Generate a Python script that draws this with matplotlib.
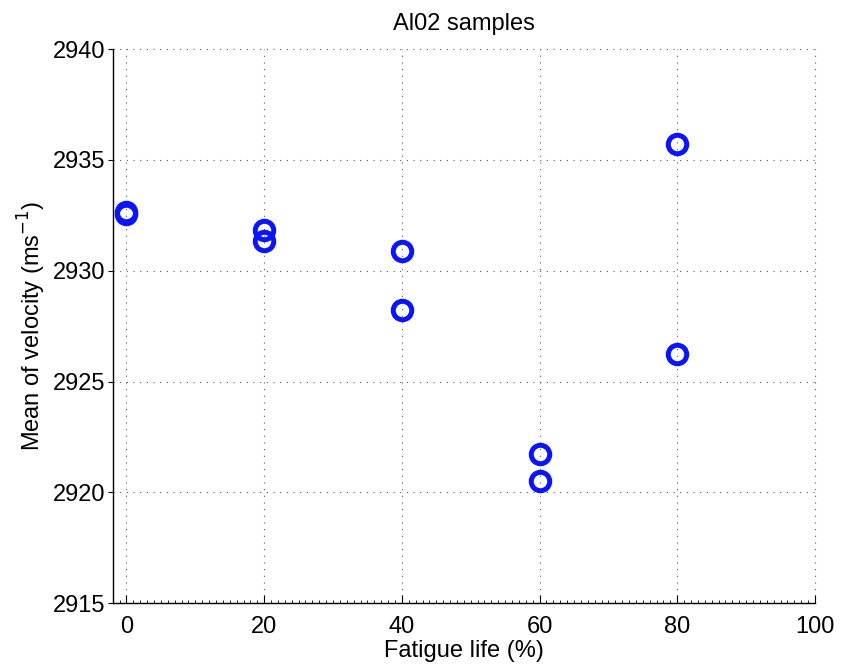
"""
Mean velocity vs fatigue life for the Al02 samples
"""

import numpy as np
import matplotlib.pyplot as plt
from matplotlib.ticker import MultipleLocator

plt.rcParams["font.family"] = ["Liberation Sans", "DejaVu Sans"]

# fatigue life (%) and mean velocity (m/s), two samples per level
fatigue = [0, 0, 20, 20, 40, 40, 60, 60, 80, 80]
velocity = [2932.67, 2932.54, 2931.83, 2931.34, 2930.88, 2928.22,
            2921.71, 2920.50, 2935.71, 2926.24]

xticks = [0, 20, 40, 60, 80, 100]
yticks = [2915, 2920, 2925, 2930, 2935, 2940]


def makePlot(x, y, savedir=None):
    fig = plt.figure(figsize=(8.41, 6.68), dpi=100)
    ax = fig.add_axes([0.134, 0.097, 0.835, 0.8295])

    ax.plot(x, y, "o", color="#0a14ff", mfc="none", ms=13.3, mew=3.6,
            clip_on=False, zorder=3)

    ax.set_xlim(-2, 100)
    ax.set_ylim(2915, 2940)
    ax.set_xticks(xticks)
    ax.set_yticks(yticks)
    ax.xaxis.set_minor_locator(MultipleLocator(1))

    ax.grid(True, linestyle=(0, (1, 5)), color="0.35", linewidth=0.8)
    for gl in ax.get_xgridlines() + ax.get_ygridlines():
        gl.set_clip_on(False)
    ax.spines["top"].set_visible(False)
    ax.spines["right"].set_visible(False)
    for s in ("left", "bottom"):
        ax.spines[s].set_linewidth(1.0)

    ax.tick_params(axis="x", which="major", direction="in", length=6,
                   pad=9, labelsize=17)
    ax.tick_params(axis="x", which="minor", direction="in", length=2.2)
    ax.tick_params(axis="y", which="major", direction="out", length=3.6,
                   pad=2, labelsize=17)

    ax.set_title("Al02 samples", fontsize=17, pad=14)
    ax.set_xlabel("Fatigue life (%)", fontsize=17, labelpad=2)
    ax.set_ylabel("Mean of velocity (ms$^{-1}$)", fontsize=17, labelpad=3.5)

    if savedir:
        fig.savefig(savedir, dpi=100)
        plt.close(fig)
    else:
        plt.show()


if __name__ == "__main__":
    makePlot(np.array(fatigue), np.array(velocity), savedir="out.png")
